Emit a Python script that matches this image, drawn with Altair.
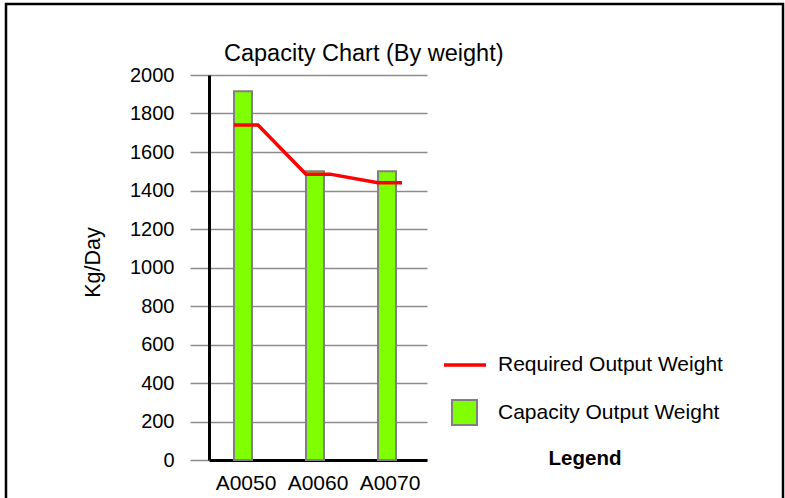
import altair as alt
import pandas as pd

categories = ["A0050", "A0060", "A0070"]
capacity = [1915, 1500, 1500]
required = [1740, 1485, 1440]
y_ticks = [0, 200, 400, 600, 800, 1000, 1200, 1400, 1600, 1800, 2000]

cap_name = "Capacity Output Weight"
req_name = "Required Output Weight"

bar_df = pd.DataFrame({"category": categories, "capacity": capacity,
                       "cap_series": [cap_name] * len(categories)})

rows = []
for i, (c, r) in enumerate(zip(categories, required)):
    for j, side in enumerate(["L", "R"]):
        rows.append({"category": c, "side": side, "required": r,
                     "idx": i * 2 + j, "req_series": req_name})
line_df = pd.DataFrame(rows)

FONT = "Liberation Sans"
W, H = 218, 385
LEFT, TOP = 209, 75

x_scale = alt.Scale(domain=categories, paddingInner=2 / 3, paddingOuter=0.347)
y_scale = alt.Scale(domain=[0, 2000], nice=False)

y_axis = alt.Axis(values=y_ticks, tickCount=20, format="d", labelOverlap=False,
                  title="Kg/Day", grid=True, gridColor="#8c8c8c",
                  gridWidth=1.5, domainColor="black", domainWidth=3,
                  tickColor="#8c8c8c", tickWidth=1.5, tickSize=19,
                  labelPadding=16, labelFontSize=20, labelColor="black",
                  titleFontSize=21.5, titleFontWeight="normal", titleColor="black",
                  titleX=-116, titleY=187, titleBaseline="middle", titleAngle=270)
x_axis = alt.Axis(title=None, ticks=False, domainColor="black", domainWidth=3,
                  labelPadding=12, labelFontSize=21, labelColor="black",
                  labelAngle=0, grid=False)

bars = alt.Chart(bar_df).mark_bar(stroke="#808080", strokeWidth=2,
                                  width=alt.RelativeBandSize(1)).encode(
    x=alt.X("category:N", scale=x_scale, axis=x_axis, sort=categories),
    y=alt.Y("capacity:Q", scale=y_scale, axis=y_axis),
    fill=alt.Fill("cap_series:N",
                  scale=alt.Scale(domain=[cap_name], range=["#80ff00"]),
                  legend=alt.Legend(title="Legend", orient="none",
                                    legendX=242, legendY=324,
                                    symbolType="square", symbolSize=625,
                                    symbolStrokeColor="#808080",
                                    symbolStrokeWidth=2, labelOffset=20,
                                    labelFontSize=21, labelColor="black",
                                    labelLimit=0,
                                    titleOrient="bottom", titleAnchor="middle",
                                    titleFontWeight="bold", titleFontSize=20.5,
                                    titleColor="black", titlePadding=20,
                                    padding=0)),
)

line = alt.Chart(line_df).mark_line(strokeWidth=3.5).encode(
    x=alt.X("category:N", scale=x_scale, axis=x_axis, bandPosition=0, sort=categories),
    xOffset=alt.XOffset("side:N", scale=alt.Scale(type="point", padding=0)),
    y=alt.Y("required:Q", scale=y_scale, axis=y_axis),
    order=alt.Order("idx:Q"),
    stroke=alt.Stroke("req_series:N",
                      scale=alt.Scale(domain=[req_name], range=["#ff0000"]),
                      legend=alt.Legend(title=None, orient="none",
                                        legendX=233, legendY=267,
                                        symbolType="stroke", symbolSize=1764,
                                        symbolStrokeWidth=3.5, labelOffset=10,
                                        labelFontSize=21, labelColor="black",
                                        labelLimit=0, padding=0)),
)

border = alt.Chart(alt.Data(values=[{}])).mark_rect(
    filled=False, stroke="black", strokeWidth=2.5).encode(
    x=alt.value(6 - LEFT), x2=alt.value(783 - LEFT),
    y=alt.value(4 - TOP), y2=alt.value(460))

chart = alt.layer(bars, line, border).resolve_scale(
    fill="independent", stroke="independent"
).properties(
    width=W, height=H,
    title=alt.Title("Capacity Chart (By weight)", anchor="start", frame="group",
                    dx=15, dy=97,
                    fontSize=23.5, fontWeight="normal", color="black",
                    font=FONT, baseline="alphabetic", offset=15),
    autosize=alt.AutoSizeParams(type="none"),
    padding={"left": LEFT, "top": TOP, "right": 785 - LEFT - W, "bottom": 498 - TOP - H},
).configure(font=FONT, background="white").configure_view(stroke=None).configure_axis(
    labelFont=FONT, titleFont=FONT).configure_legend(labelFont=FONT, titleFont=FONT)

chart.save("out.html", embed_options={"renderer": "svg", "actions": False})
